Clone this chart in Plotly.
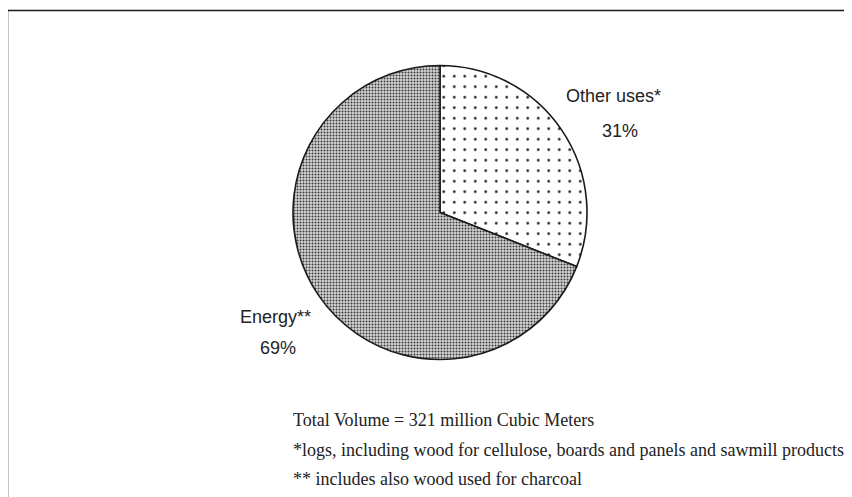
import plotly.graph_objects as go

W, H = 852, 497
OFF = 8  # page body margin in the browser

categories = ["Other uses*", "Energy**"]
shares = [31, 69]
pct_text = ["31%", "69%"]
footnotes = [
    "Total Volume = 321 million Cubic Meters",
    "*logs, including wood for cellulose, boards and panels and sawmill products",
    "** includes also wood used for charcoal",
]

cx, cy, r = 440, 212.5, 147

def px(x):
    return (x - OFF) / W

def py(y):
    return 1 - (y - OFF) / H

fig = go.Figure(go.Pie(
    labels=categories,
    values=shares,
    sort=False,
    direction="clockwise",
    rotation=0,
    textinfo="none",
    hoverinfo="label+percent",
    showlegend=False,
    marker=dict(
        colors=["white", "white"],
        line=dict(color="#1a1a1a", width=1.6),
        pattern=dict(
            shape=[".", "."],
            size=[10.5, 3],
            solidity=[0.05, 0.35],
            fgcolor=["#222222", "#3a3a3a"],
            bgcolor=["white", "#d4d4d4"],
            fillmode="replace",
        ),
    ),
    domain=dict(x=[px(cx - r), px(cx + r)], y=[py(cy + r), py(cy - r)]),
))

lab_font = dict(family="Liberation Sans, Arial", size=18, color="#222")
annotations = [
    dict(x=px(613), y=py(96), text=categories[0], showarrow=False, font=lab_font,
         xanchor="center", yanchor="middle"),
    dict(x=px(620), y=py(131), text=pct_text[0], showarrow=False, font=lab_font,
         xanchor="center", yanchor="middle"),
    dict(x=px(275.5), y=py(317), text=categories[1], showarrow=False, font=lab_font,
         xanchor="center", yanchor="middle"),
    dict(x=px(277.5), y=py(348), text=pct_text[1], showarrow=False, font=lab_font,
         xanchor="center", yanchor="middle"),
]
for i, t in enumerate(footnotes):
    annotations.append(dict(
        x=px(291), y=py(420 + 29.5 * i), text=t, showarrow=False,
        font=dict(family="Liberation Serif, Times New Roman", size=18, color="#222"),
        xanchor="left", yanchor="middle", align="left"))

fig.update_layout(
    width=W, height=H,
    margin=dict(l=0, r=0, t=0, b=0),
    paper_bgcolor="white",
    plot_bgcolor="white",
    annotations=annotations,
    shapes=[dict(type="rect", xref="paper", yref="paper",
                 x0=px(7.5), x1=1.05, y0=-0.05, y1=py(10.5),
                 line=dict(color="#1a1a1a", width=1.5), fillcolor="rgba(0,0,0,0)")],
)

fig.write_html("out.html")
